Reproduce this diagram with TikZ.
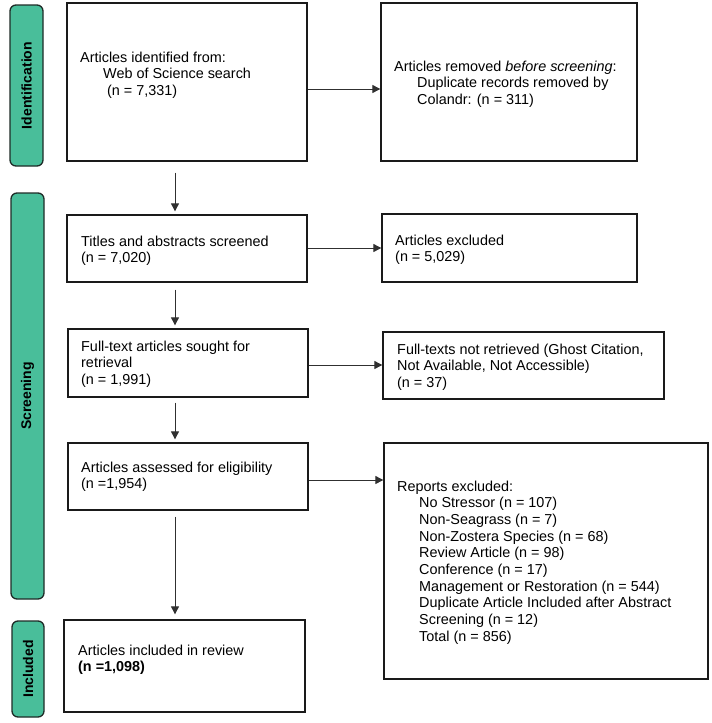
\documentclass[tikz,border=0pt]{standalone}
\usepackage{fontspec}
\setmainfont{Liberation Sans}
\usetikzlibrary{arrows.meta}
\definecolor{pillfill}{HTML}{49BE9A}
\definecolor{pilledge}{HTML}{1E2B27}
\definecolor{boxedge}{HTML}{1A1A1A}
\definecolor{arrcol}{HTML}{303030}
\begin{document}
\begin{tikzpicture}[x=1pt,y=-1pt,
  box/.style={draw=boxedge,line width=1.3pt,rectangle,inner sep=0pt},
  pill/.style={draw=pilledge,fill=pillfill,line width=1.3pt,rounded corners=6pt,
    rotate=90,inner sep=0pt,font=\fontsize{14}{16}\selectfont\bfseries},
  txt/.style={anchor=north west,inner sep=0pt,align=left,
    font=\fontsize{14.4}{16.67}\selectfont},
  arr/.style={draw=arrcol,line width=0.9pt,-{Triangle[length=8pt,width=8pt]}}
]
\useasboundingbox (0,0) rectangle (712,723);
% phase pills
\node[pill,minimum width=161pt,minimum height=33pt] (p1) at (26.5,85.5) {Identification};
\node[pill,minimum width=406pt,minimum height=33pt] (p2) at (27.5,396) {Screening};
\node[pill,minimum width=96pt,minimum height=32pt] (p3) at (28,669) {Included};
% left boxes
\node[box,minimum width=240pt,minimum height=158pt] (b1) at (187,82) {};
\node[box,minimum width=240pt,minimum height=67pt] (b3) at (187,248.5) {};
\node[box,minimum width=240pt,minimum height=68pt] (b4) at (188,363) {};
\node[box,minimum width=240pt,minimum height=67pt] (b5) at (188,476.5) {};
\node[box,minimum width=241pt,minimum height=92pt] (b6) at (184.5,666) {};
% right boxes
\node[box,minimum width=256pt,minimum height=158pt] (b2) at (509,82) {};
\node[box,minimum width=255pt,minimum height=68pt] (r3) at (509.5,248) {};
\node[box,minimum width=281pt,minimum height=67pt] (r4) at (523.5,365.5) {};
\node[box,minimum width=324pt,minimum height=236pt] (r5) at (546,561) {};
% texts
\node[txt] (t1) at (80,50.3) {\strut Articles identified from:\\\hspace*{23pt}Web of Science search\\\hspace*{27pt}(n = 7,331)};
\node[txt] (t2) at (394,59.3) {\strut Articles removed \textit{before screening}:\\\hspace*{23pt}Duplicate records removed by\\\hspace*{23pt}Colandr: (n = 311)};
\node[txt] (t3) at (81,234.3) {\strut Titles and abstracts screened\\(n = 7,020)};
\node[txt] (t4) at (81,339.3) {\strut Full-text articles sought for\\retrieval\\(n = 1,991)};
\node[txt] (t5) at (81,460.3) {\strut Articles assessed for eligibility\\(n =1,954)};
\node[txt] (t6) at (78,643.3) {\strut Articles included in review\\\textbf{(n =1,098)}};
\node[txt] (tr3) at (395,233.3) {\strut Articles excluded\\(n = 5,029)};
\node[txt] (tr4) at (397,342.3) {\strut Full-texts not retrieved (Ghost Citation,\\Not Available, Not Accessible)\\(n = 37)};
\node[txt] (tr5) at (397,479.3) {\strut Reports excluded:\\
\hspace*{22pt}No Stressor (n = 107)\\
\hspace*{22pt}Non-Seagrass (n = 7)\\
\hspace*{22pt}Non-Zostera Species (n = 68)\\
\hspace*{22pt}Review Article (n = 98)\\
\hspace*{22pt}Conference (n = 17)\\
\hspace*{22pt}Management or Restoration (n = 544)\\
\hspace*{22pt}Duplicate Article Included after Abstract\\
\hspace*{22pt}Screening (n = 12)\\
\hspace*{22pt}Total (n = 856)};
% guide coordinates
\coordinate (ax) at (175,0);
\coordinate (hy1) at (0,89);
\coordinate (hy2) at (0,248);
\coordinate (hy3) at (0,365);
\coordinate (hy4) at (0,480);
% vertical arrows
\draw[arr,shorten <=11pt,shorten >=3pt] (b1.south -| ax) -- (b3.north -| ax);
\draw[arr,shorten <=7pt,shorten >=3pt] (b3.south -| ax) -- (b4.north -| ax);
\draw[arr,shorten <=5pt,shorten >=3pt] (b4.south -| ax) -- (b5.north -| ax);
\draw[arr,shorten <=6pt,shorten >=5pt] (b5.south -| ax) -- (b6.north -| ax);
% horizontal arrows
\draw[arr] (b1.east |- hy1) -- (b2.west |- hy1);
\draw[arr] (b3.east |- hy2) -- (r3.west |- hy2);
\draw[arr] (b4.east |- hy3) -- (r4.west |- hy3);
\draw[arr] (b5.east |- hy4) -- (r5.west |- hy4);
\end{tikzpicture}
\end{document}
